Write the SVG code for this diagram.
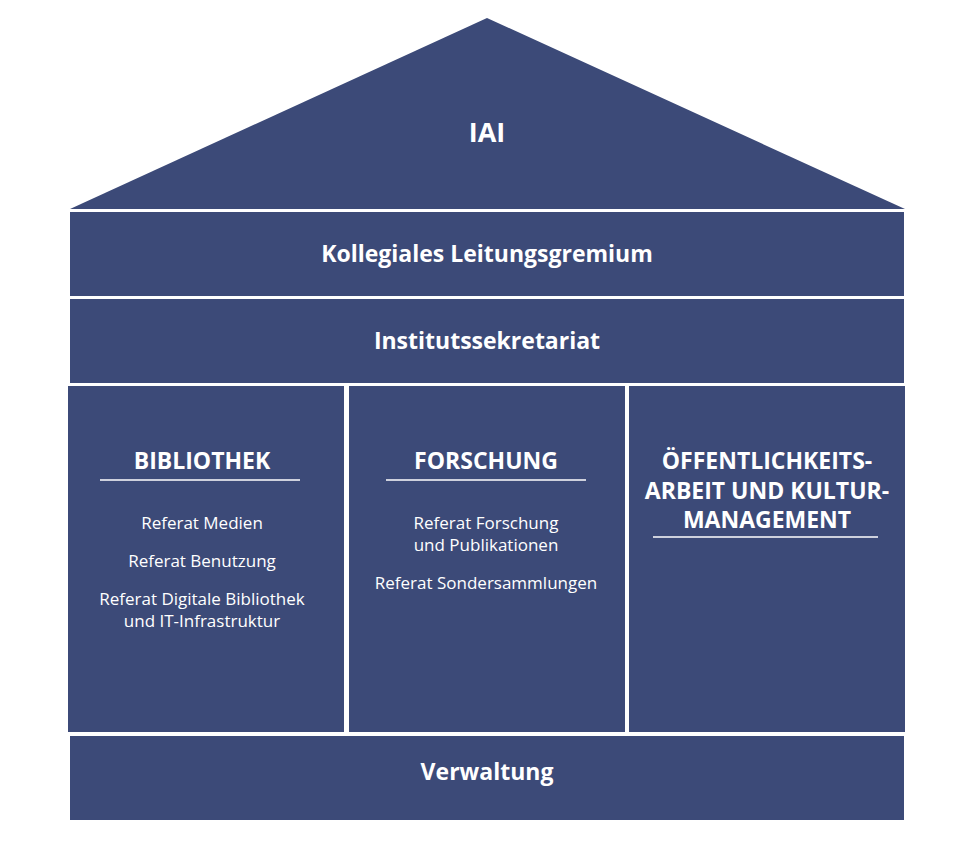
<svg xmlns="http://www.w3.org/2000/svg" width="970" height="860" viewBox="0 0 970 860">
<style>
.b{fill:#3c4a78}
.h{font-family:"Open Sans","Liberation Sans",sans-serif;font-weight:bold;fill:#fff;text-anchor:middle;font-size:23px}
.t{font-family:"Open Sans","Liberation Sans",sans-serif;fill:#fff;text-anchor:middle;font-size:17px}
.l{stroke:#fff;stroke-width:1.5}
</style>
<rect width="970" height="860" fill="#fff"/>
<g id="iai"><polygon class="b" points="487,18 905,209 70,209"/><text class="h" x="487" y="142" font-size="27" style="font-size:27px">IAI</text></g>
<g id="kollegiales"><rect class="b" x="70" y="212" width="834" height="84"/><text class="h" x="487" y="262">Kollegiales Leitungsgremium</text></g>
<g id="sekretariat"><rect class="b" x="70" y="299" width="834" height="84"/><text class="h" x="487" y="349">Institutssekretariat</text></g>
<g id="bibliothek"><rect class="b" x="68" y="386" width="276" height="346"/>
<text class="h" x="202" y="469">BIBLIOTHEK</text><line class="l" x1="100" y1="480" x2="300" y2="480"/>
<text class="t" x="202" y="529">Referat Medien</text>
<text class="t" x="202" y="567">Referat Benutzung</text>
<text class="t" x="202" y="605">Referat Digitale Bibliothek</text>
<text class="t" x="202" y="627">und IT-Infrastruktur</text></g>
<g id="forschung"><rect class="b" x="349" y="386" width="276" height="346"/>
<text class="h" x="486" y="469">FORSCHUNG</text><line class="l" x1="386" y1="480" x2="586" y2="480"/>
<text class="t" x="486" y="529">Referat Forschung</text>
<text class="t" x="486" y="551">und Publikationen</text>
<text class="t" x="486" y="589">Referat Sondersammlungen</text></g>
<g id="oeffentlichkeit"><rect class="b" x="629" y="386" width="276" height="346"/>
<text class="h" x="767" y="469">ÖFFENTLICHKEITS-</text>
<text class="h" x="767" y="499">ARBEIT UND KULTUR-</text>
<text class="h" x="767" y="528">MANAGEMENT</text>
<line class="l" x1="653" y1="537" x2="878" y2="537"/></g>
<g id="verwaltung"><rect class="b" x="70" y="736" width="834" height="84"/><text class="h" x="487" y="780">Verwaltung</text></g>
<g id="connectors"/>
</svg>
